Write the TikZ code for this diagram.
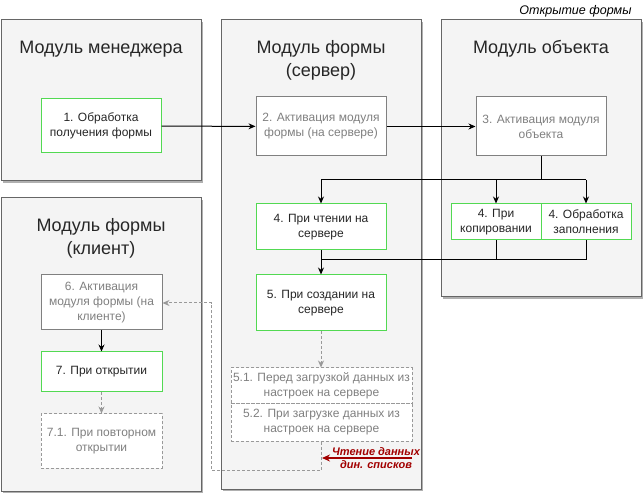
\documentclass[tikz,border=0pt]{standalone}
\usepackage{fontspec}
\setmainfont{Liberation Sans}
\usetikzlibrary{arrows.meta,shadows}
\definecolor{panelfill}{HTML}{F4F4F4}
\definecolor{panelline}{HTML}{666666}
\definecolor{shadowc}{HTML}{B0B0B0}
\definecolor{greenb}{HTML}{52D952}
\definecolor{grayt}{HTML}{808080}
\definecolor{dashc}{HTML}{999999}
\definecolor{darkred}{HTML}{A20000}
\tikzset{
  panel/.style={draw=panelline, fill=panelfill, line width=1pt,
    drop shadow={shadow xshift=2pt, shadow yshift=-2pt, fill=shadowc, opacity=1}},
  ptitle/.style={align=center, font=\fontsize{18}{23}\selectfont, text=black!85},
  box/.style={draw, rectangle, fill=white, line width=1pt, align=center,
    font=\fontsize{12}{15}\selectfont, inner sep=2pt},
  greenbox/.style={box, draw=greenb, text=black!85},
  graybox/.style={box, draw=grayt, text=grayt},
  dashbox/.style={box, draw=dashc, text=grayt, dashed, dash pattern=on 3pt off 2pt},
  conn/.style={line width=1pt, black, -{Stealth[length=7pt,width=6pt]}},
  plainconn/.style={line width=1pt, black},
  dconn/.style={line width=1pt, dashc, dash pattern=on 3pt off 2pt, -{Stealth[length=7pt,width=6pt]}},
}
\begin{document}
\begin{tikzpicture}[x=1pt,y=-1pt]
\useasboundingbox (0,0) rectangle (643,494);
% panels
\filldraw[panel] (1,20) rectangle (201,181);
\filldraw[panel] (221,20) rectangle (421,489);
\filldraw[panel] (441,20) rectangle (641,297);
\filldraw[panel] (1,198) rectangle (201,491);
% titles
\node[font=\fontsize{12.5}{14}\selectfont\itshape, anchor=east] (ttl) at (635,11) {Открытие формы};
\node[ptitle] (t1) at (101,49) {Модуль менеджера};
\node[ptitle] (t2) at (321,60) {Модуль формы\\(сервер)};
\node[ptitle] (t3) at (541,49) {Модуль объекта};
\node[ptitle] (t4) at (101,238) {Модуль формы\\(клиент)};
% nodes
\node[greenbox, minimum width=120pt, minimum height=54pt] (n1) at (101,126) {1. Обработка\\получения формы};
\node[graybox, minimum width=130pt, minimum height=59pt] (n2) at (321,126.5) {2. Активация модуля\\формы (на сервере)};
\node[graybox, minimum width=130pt, minimum height=59pt] (n3) at (541,126.5) {3. Активация модуля\\объекта};
\node[greenbox, minimum width=130pt, minimum height=46pt] (n4a) at (321,227) {4. При чтении на\\сервере};
\node[greenbox, minimum width=90pt, minimum height=36pt] (n4b) at (496,222) {4. При\\копировании};
\node[greenbox, minimum width=90pt, minimum height=36pt] (n4c) at (586,222) {4. Обработка\\заполнения};
\node[greenbox, minimum width=130pt, minimum height=56pt] (n5) at (321,303) {5. При создании на\\сервере};
\node[dashbox, minimum width=181pt, minimum height=36pt] (n51) at (321.5,386) {5.1. Перед загрузкой данных из\\настроек на сервере};
\node[dashbox, minimum width=181pt, minimum height=37pt] (n52) at (321.5,422.5) {5.2. При загрузке данных из\\настроек на сервере};
\node[graybox, minimum width=121pt, minimum height=55pt] (n6) at (101.5,302.5) {6. Активация\\модуля формы (на\\клиенте)};
\node[greenbox, minimum width=121pt, minimum height=40pt] (n7) at (101.5,372) {7. При открытии};
\node[dashbox, minimum width=121pt, minimum height=54pt] (n71) at (101.5,441) {7.1. При повторном\\открытии};
% connectors
\draw[conn] (n1) -- (n2);
\draw[conn] (n2) -- (n3);
\coordinate (j1) at (541,180);
\coordinate (j2) at (321,260);
\draw[plainconn] (n3.south) -- (j1);
\draw[conn] (n4c.north |- j1) -| (n4a.north);
\draw[conn] (n4b.north |- j1) -- (n4b.north);
\draw[conn] (n4c.north |- j1) -- (n4c.north);
\draw[plainconn] (n4c.south) |- (j2);
\draw[plainconn] (n4b.south) -- (n4b.south |- j2);
\draw[conn] (n4a.south) -- (n5.north);
\draw[dconn] (n5.south) -- (n51.north -| n5.south);
\coordinate (c1) at (321,470);
\coordinate (c2) at (211,470);
\coordinate (c3) at (211,303);
\draw[dconn] (n52.south -| c1) -- (c1) -- (c2) -- (c3) -- (n6.east |- c3);
\draw[conn] (n6) -- (n7);
\draw[dconn] (n7) -- (n71);
% red annotation
\coordinate (r1) at (412,458);
\coordinate (r2) at (322,458);
\draw[line width=1.2pt, darkred, -{Stealth[length=8pt,width=7pt]}] (r1) -- (r2);
\node[font=\fontsize{11}{13}\selectfont\itshape\bfseries, text=darkred, align=center] (lbl) at (376,458.5) {Чтение данных\\дин. списков};
\end{tikzpicture}
\end{document}
